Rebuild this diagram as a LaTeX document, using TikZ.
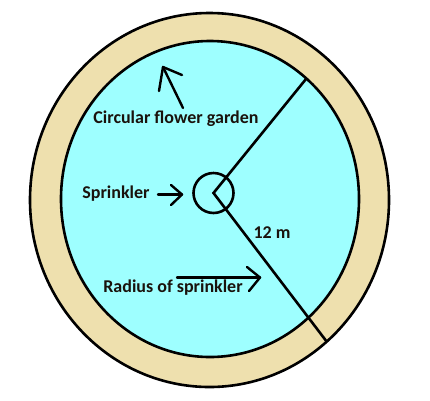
\documentclass[tikz,border=0pt]{standalone}
\usepackage{fontspec}
\setmainfont{Carlito}
\definecolor{band}{HTML}{EEE0AE}
\definecolor{pool}{HTML}{9EFFFF}
\definecolor{ink}{HTML}{1A120C}
\begin{document}
\begin{tikzpicture}[x=1pt,y=-1pt,
  stroke/.style={draw=black,line width=2.6pt},
  arrowline/.style={draw=black,line width=2.4pt,line cap=round,line join=round},
  lbl/.style={inner sep=0pt,text=ink,font=\fontsize{18}{21}\selectfont\bfseries}]
\useasboundingbox (0,0) rectangle (430,400);
\fill[white] (0,0) rectangle (430,400);
% garden
\filldraw[stroke,fill=band] (209.5,200) ellipse [x radius=179.5,y radius=187];
\filldraw[stroke,fill=pool] (210,199) ellipse [x radius=149,y radius=158];
\coordinate (c) at (213.5,193);
\coordinate (up) at (306,79);
\coordinate (down) at (327,342);
\draw[stroke] (up) -- (c) -- (down);
\draw[stroke] (c) circle [radius=20];
% labels
\node[lbl] (garden) at (176,119) {Circular flower garden};
\node[lbl] (spr) at (116,194) {Sprinkler};
\node[lbl] (twelve) at (272,233) {12 m};
\node[lbl] (rad) at (173,288) {Radius of sprinkler};
% arrows
\coordinate (g1) at (183,108); \coordinate (g2) at (163,67);
\draw[arrowline] (g1) -- (g2);
\draw[arrowline] (159,91) -- (g2) -- (182,75);
\coordinate (s1) at (158,194.5); \coordinate (s2) at (182,194.5);
\draw[arrowline] (s1) -- (s2);
\draw[arrowline] (171,185) -- (s2) -- (171,205);
\coordinate (r1) at (177,277.5); \coordinate (r2) at (260,277.5);
\draw[arrowline] (r1) -- (r2);
\draw[arrowline] (247,267) -- (r2) -- (249,291);
\end{tikzpicture}
\end{document}
